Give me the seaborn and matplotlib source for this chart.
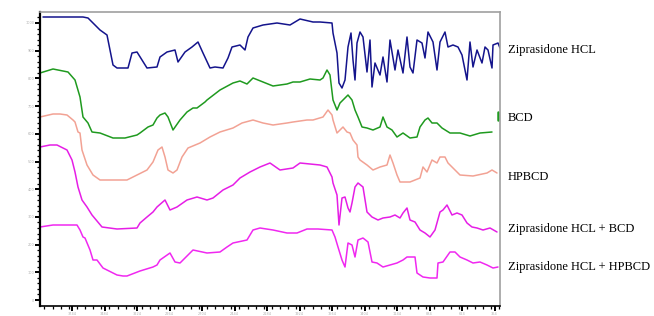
import numpy as np
import pandas as pd
import matplotlib
matplotlib.use("Agg")
import matplotlib.pyplot as plt
import matplotlib.transforms as mtransforms
from matplotlib.ticker import FixedLocator, MultipleLocator
import seaborn as sns

# wavenumber (cm-1) and stacked transmittance (offset, a.u.)
zip_wn = [3976, 3656, 3616, 3520, 3464, 3440, 3416, 3384, 3296, 3264, 3224, 3184, 3144, 3064, 3040,
          2984, 2920, 2896, 2840, 2784, 2736, 2696, 2640, 2600, 2536, 2496, 2464, 2400, 2360, 2336,
          2296, 2216, 2104, 2000, 1920, 1816, 1760, 1664, 1656, 1624, 1608, 1584, 1560, 1536, 1512,
          1496, 1480, 1464, 1440, 1416, 1384, 1360, 1344, 1320, 1280, 1256, 1224, 1200, 1160, 1136,
          1096, 1064, 1040, 1016, 984, 944, 920, 896, 856, 824, 800, 760, 736, 696, 656,
          624, 584, 560, 536, 504, 464, 440, 416, 384, 376, 336, 320]
zip_t = [293, 293, 292, 280, 275, 260, 245, 242, 242, 257, 258, 250, 242, 243, 253,
         258, 260, 248, 258, 263, 268, 257, 242, 243, 242, 252, 263, 265, 260, 273,
         282, 285, 287, 285, 291, 288, 288, 287, 277, 257, 227, 222, 230, 263, 277,
         250, 230, 267, 278, 273, 238, 270, 223, 247, 235, 253, 228, 270, 240, 260,
         237, 273, 243, 237, 270, 267, 252, 278, 268, 240, 268, 278, 263, 265, 263,
         255, 230, 268, 243, 260, 247, 263, 260, 242, 265, 267, 262]

bcd_wn = [4000, 3896, 3776, 3720, 3680, 3656, 3616, 3584, 3520, 3416, 3320, 3224, 3200, 3136, 3096,
          3064, 3040, 3000, 2976, 2936, 2880, 2824, 2776, 2744, 2680, 2664, 2560, 2456, 2400, 2344,
          2296, 2216, 2136, 2024, 1976, 1920, 1840, 1760, 1736, 1704, 1680, 1656, 1624, 1600, 1576,
          1536, 1504, 1480, 1456, 1424, 1384, 1336, 1280, 1256, 1224, 1184, 1144, 1096, 1040, 984,
          960, 920, 896, 864, 824, 784, 720, 640, 560, 480, 384]
bcd_t = [237, 241, 238, 230, 213, 193, 187, 178, 177, 172, 172, 175, 177, 183, 185,
         192, 195, 197, 193, 180, 190, 198, 202, 202, 208, 210, 220, 227, 229, 226,
         232, 228, 224, 226, 228, 228, 231, 230, 232, 240, 235, 210, 200, 207, 210,
         215, 210, 200, 193, 183, 182, 180, 183, 193, 183, 180, 173, 177, 172, 173,
         183, 190, 192, 187, 187, 182, 177, 177, 174, 177, 178]
bcd_end_wn = [336, 336]
bcd_end_t = [190, 198]

hpbcd_wn = [4000, 3896, 3840, 3784, 3736, 3720, 3696, 3680, 3664, 3624, 3576, 3520, 3416, 3304, 3224,
            3144, 3096, 3056, 3024, 3000, 2976, 2936, 2904, 2864, 2816, 2720, 2640, 2560, 2456, 2384,
            2296, 2216, 2136, 2024, 1976, 1864, 1816, 1736, 1696, 1664, 1656, 1624, 1600, 1576, 1544,
            1520, 1496, 1464, 1456, 1440, 1384, 1336, 1280, 1224, 1200, 1176, 1144, 1120, 1040, 960,
            936, 904, 864, 824, 800, 760, 736, 696, 640, 536, 424, 384, 344]
hpbcd_t = [193, 196, 196, 195, 190, 188, 178, 177, 160, 145, 135, 130, 130, 130, 135,
           140, 148, 160, 163, 153, 140, 137, 140, 153, 162, 167, 173, 178, 182, 187,
           190, 187, 185, 187, 188, 190, 190, 193, 200, 195, 190, 177, 180, 183, 178,
           177, 170, 165, 153, 150, 145, 140, 143, 145, 155, 147, 135, 128, 128, 132,
           143, 138, 150, 147, 153, 153, 147, 142, 135, 134, 137, 140, 137]

zb_wn = [4000, 3920, 3864, 3784, 3744, 3720, 3696, 3664, 3624, 3584, 3504, 3384, 3224, 3200, 3144,
         3096, 3064, 3000, 2960, 2904, 2824, 2744, 2664, 2616, 2536, 2456, 2400, 2320, 2240, 2160,
         2080, 1976, 1920, 1760, 1704, 1664, 1656, 1624, 1608, 1584, 1560, 1536, 1520, 1504, 1480,
         1456, 1416, 1384, 1344, 1296, 1256, 1200, 1160, 1120, 1096, 1064, 1040, 1000, 960, 920,
         880, 840, 800, 776, 744, 704, 664, 624, 584, 544, 504, 456, 400, 344]
zb_t = [163, 165, 165, 160, 150, 138, 123, 110, 103, 95, 83, 81, 82, 87, 93,
        98, 103, 110, 100, 103, 110, 113, 110, 112, 120, 125, 132, 138, 143, 147,
        140, 142, 147, 145, 143, 133, 127, 115, 85, 112, 113, 102, 98, 107, 123,
        127, 123, 98, 93, 90, 92, 93, 95, 92, 97, 102, 90, 88, 80, 77,
        73, 80, 98, 100, 105, 95, 97, 95, 87, 83, 82, 80, 82, 78]

zh_wn = [4000, 3896, 3704, 3680, 3656, 3640, 3600, 3576, 3544, 3496, 3464, 3384, 3336, 3304, 3200,
         3096, 3064, 3040, 2960, 2920, 2880, 2776, 2664, 2560, 2504, 2456, 2344, 2296, 2240, 2136,
         2024, 1944, 1864, 1776, 1664, 1640, 1616, 1584, 1560, 1536, 1504, 1480, 1456, 1416, 1376,
         1344, 1304, 1256, 1200, 1144, 1096, 1064, 1000, 984, 936, 880, 824, 816, 776, 720,
         680, 640, 584, 536, 480, 424, 376, 336]
zh_t = [83, 85, 85, 80, 73, 72, 60, 50, 50, 42, 40, 35, 34, 34, 39,
        43, 45, 50, 57, 48, 47, 60, 57, 58, 63, 67, 70, 80, 82, 80,
        77, 77, 81, 81, 80, 73, 63, 50, 43, 67, 65, 53, 70, 72, 68,
        48, 47, 43, 45, 47, 50, 53, 53, 37, 33, 32, 32, 47, 48, 58,
        58, 53, 50, 47, 48, 45, 42, 43]

names = ["Ziprasidone HCL", "BCD", "HPBCD", "Ziprasidone HCL + BCD", "Ziprasidone HCL + HPBCD"]
label_t = [260, 192, 133, 81, 43]
colors = ["#14148c", "#1f9a1f", "#f2a294", "#e61ee6", "#f028f0"]

sns.set_style("white")
plt.rcParams["font.family"] = ["DejaVu Sans"]

fig = plt.figure(figsize=(6.54, 3.16), dpi=100)
ax = fig.add_axes([40 / 654, 10 / 316, 460 / 654, 294 / 316])

series = [(zip_wn, zip_t), (bcd_wn, bcd_t), (hpbcd_wn, hpbcd_t), (zb_wn, zb_t), (zh_wn, zh_t)]
for (wn, t), name, c in zip(series, names, colors):
    df = pd.DataFrame({"wn": wn, "t": t})
    sns.lineplot(data=df, x="wn", y="t", sort=False, estimator=None, color=c, lw=1.1, ax=ax)
sns.lineplot(x=bcd_end_wn, y=bcd_end_t, sort=False, estimator=None, color=colors[1], lw=1.8, ax=ax)

ax.set_xlim(4000, 320)
ax.set_ylim(4, 298)
ax.set_xlabel("")
ax.set_ylabel("")

# ticks (labels are faint in the original)
xt = np.arange(3744, 320, -260)
ax.xaxis.set_major_locator(FixedLocator(xt))
ax.xaxis.set_minor_locator(MultipleLocator(65))
ax.set_xticklabels([str(int(v)) for v in xt])
yt = 10 + 27.7 * np.arange(11)
ax.yaxis.set_major_locator(FixedLocator(yt))
ax.yaxis.set_minor_locator(FixedLocator(np.arange(10, 298, 27.7 / 5)))
ax.set_yticklabels([str(v) for v in range(0, 1001, 100)])
ax.tick_params(axis="both", which="both", bottom=True, left=True, top=False, right=False)
ax.tick_params(axis="both", which="major", direction="out", length=3.5, width=1.4,
               labelsize=2.5, colors="black", pad=0.5)
ax.tick_params(axis="both", which="minor", direction="out", length=2, width=0.9, colors="black")
for lab in ax.get_yticklabels() + ax.get_xticklabels():
    lab.set_color("#b0b0b0")

ax.spines["left"].set_color("black")
ax.spines["left"].set_linewidth(1.6)
ax.spines["bottom"].set_color("black")
ax.spines["bottom"].set_linewidth(1.2)
for s in ["top", "right"]:
    ax.spines[s].set_color("#a0a0a0")
    ax.spines[s].set_linewidth(1.2)

trans = mtransforms.blended_transform_factory(ax.transAxes, ax.transData)
for name, t in zip(names, label_t):
    ax.text(1.017, t, name, transform=trans, ha="left", va="center", fontsize=9,
            family=["Liberation Serif"], color="black", clip_on=False)

fig.savefig("out.png", dpi=100)
